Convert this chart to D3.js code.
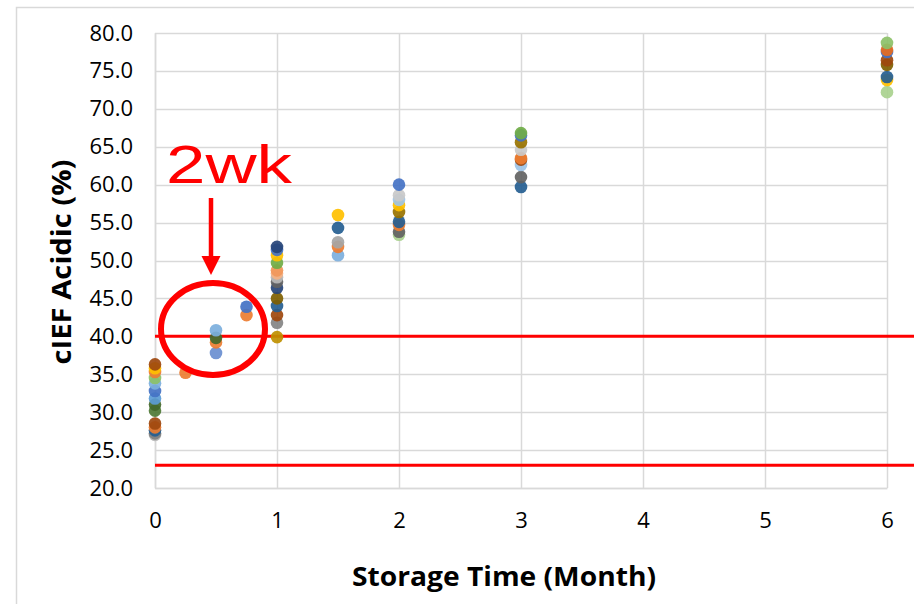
<!DOCTYPE html>
<html><head><meta charset="utf-8">
<script src="https://cdn.jsdelivr.net/npm/d3@7"></script>
<style>body{margin:0;background:#fff;}svg{display:block;}</style>
</head><body><svg id="c" width="914" height="604"></svg>
<script>
// Storage time (months) for each group of measurements
const months = [0, 0.25, 0.5, 0.75, 1, 1.5, 2, 3, 6];
// cIEF acidic (%) values read at each time point
const acidic = [
  [36.3, 35.8, 35.3, 34.5, 33.8, 32.8, 31.8, 31.0, 30.2, 28.5, 28.0, 27.6, 27.2, 27.0],
  [35.2],
  [40.8, 39.8, 39.2, 37.8],
  [43.9, 42.8],
  [51.8, 51.4, 50.7, 49.7, 48.7, 48.3, 47.8, 47.2, 46.4, 45.0, 44.0, 42.8, 41.8, 39.9],
  [56.0, 54.3, 52.4, 51.8, 50.7],
  [60.0, 58.6, 58.0, 57.3, 56.4, 55.1, 54.7, 53.8, 53.4],
  [66.8, 66.5, 65.6, 64.6, 63.5, 63.3, 62.6, 61.0, 59.7],
  [78.7, 77.8, 77.5, 76.4, 75.8, 74.2, 73.8, 72.2]
];
const pointColors = [
  ["#9E480E","#FFC000","#ED7D31","#8CC168","#7CAFDD","#4472C4","#5B9BD5","#43682B","#4E7A36","#9E480E","#ED7D31","#255E91","#7F7F7F","#B7B7B7"],
  ["#ED7D31"],
  ["#7CAFDD","#43682B","#ED7D31","#698ED0"],
  ["#4472C4","#ED7D31"],
  ["#264478","#4472C4","#FFC000","#70AD47","#F1975A","#F4B183","#B7B7B7","#636363","#264478","#7F6000","#255E91","#9E480E","#848484","#BF9000"],
  ["#FFC000","#255E91","#A5A5A5","#ED7D31","#7CAFDD"],
  ["#4472C4","#C9C9C9","#9DC3E6","#FFC000","#997300","#255E91","#ED7D31","#636363","#A9D18E"],
  ["#70AD47","#4472C4","#997300","#C9C9C9","#ED7D31","#9E480E","#9DC3E6","#636363","#255E91"],
  ["#8CC168","#E66A1E","#4472C4","#9E480E","#7F6000","#255E91","#FFC000","#A9D18E"]
];
const xTicks = [0, 1, 2, 3, 4, 5, 6];
const yTicks = [20, 25, 30, 35, 40, 45, 50, 55, 60, 65, 70, 75, 80];
const limitLines = [40, 23];
const xTitle = "Storage Time (Month)";
const yTitle = "cIEF Acidic (%)";
const note = "2wk";

const svg = d3.select("#c");
const x = d3.scaleLinear().domain([0, 6]).range([155, 887]);
const y = d3.scaleLinear().domain([20, 80]).range([488, 33]);
const grid = "#d9d9d9";
const font = "'Open Sans', 'Liberation Sans', sans-serif";

// chart border
svg.append("path").attr("d", "M16.5,604 V7.5 H914").attr("fill", "none").attr("stroke", grid).attr("stroke-width", 1.5);

// gridlines
svg.append("g").selectAll("line").data(yTicks).join("line")
  .attr("x1", x(0)).attr("x2", x(6)).attr("y1", d => Math.round(y(d)) + 0.5).attr("y2", d => Math.round(y(d)) + 0.5)
  .attr("stroke", grid).attr("stroke-width", 1.5);
svg.append("g").selectAll("line").data(xTicks).join("line")
  .attr("y1", y(20)).attr("y2", y(80)).attr("x1", d => Math.round(x(d)) + 0.5).attr("x2", d => Math.round(x(d)) + 0.5)
  .attr("stroke", grid).attr("stroke-width", 1.5);

// axes
const yAxis = svg.append("g").attr("transform", `translate(${x(0)},0)`)
  .call(d3.axisLeft(y).tickValues(yTicks).tickFormat(d3.format(".1f")).tickSize(0).tickPadding(22));
const xAxis = svg.append("g").attr("transform", `translate(0,${y(20)})`)
  .call(d3.axisBottom(x).tickValues(xTicks).tickFormat(d3.format("d")).tickSize(0).tickPadding(24));
[yAxis, xAxis].forEach(a => {
  a.select(".domain").attr("stroke", grid).attr("stroke-width", 1.5);
  a.selectAll("text").attr("font-family", font).attr("font-size", 22).attr("fill", "#000");
});

// limit lines
svg.append("g").selectAll("line").data(limitLines).join("line")
  .attr("x1", x(0)).attr("x2", 914).attr("y1", d => y(d)).attr("y2", d => y(d))
  .attr("stroke", "#ff0000").attr("stroke-width", 3);

// points
const pts = [];
months.forEach((m, i) => acidic[i].forEach((v, j) => pts.push({m, v, c: pointColors[i][j]})));
svg.append("g").selectAll("circle").data(pts.slice().reverse()).join("circle")
  .attr("cx", d => x(d.m)).attr("cy", d => y(d.v)).attr("r", 6.3)
  .attr("fill", d => d.c).attr("fill-opacity", 0.92);

// axis titles
svg.append("text").attr("x", 504).attr("y", 586).attr("text-anchor", "middle")
  .attr("font-family", font).attr("font-weight", "bold").attr("font-size", 26)
  .attr("textLength", 304).attr("lengthAdjust", "spacingAndGlyphs").text(xTitle);
svg.append("text").attr("transform", "translate(71,262) rotate(-90)").attr("text-anchor", "middle")
  .attr("font-family", font).attr("font-weight", "bold").attr("font-size", 26)
  .attr("textLength", 205).attr("lengthAdjust", "spacingAndGlyphs").text(yTitle);

// annotation
svg.append("text").attr("x", 166).attr("y", 183).attr("fill", "#ff0000")
  .attr("font-family", "'Liberation Sans', Arial, sans-serif").attr("font-size", 54)
  .attr("textLength", 126).attr("lengthAdjust", "spacingAndGlyphs").text(note);
const ax = 211;
svg.append("line").attr("x1", ax).attr("x2", ax).attr("y1", 198).attr("y2", 260)
  .attr("stroke", "#ff0000").attr("stroke-width", 4.5);
svg.append("path").attr("d", `M${ax-9.5},256 L${ax+9.5},256 L${ax},275 Z`).attr("fill", "#ff0000");
svg.append("ellipse").attr("cx", 213).attr("cy", 329).attr("rx", 52).attr("ry", 46)
  .attr("fill", "none").attr("stroke", "#ff0000").attr("stroke-width", 6);
</script></body></html>
